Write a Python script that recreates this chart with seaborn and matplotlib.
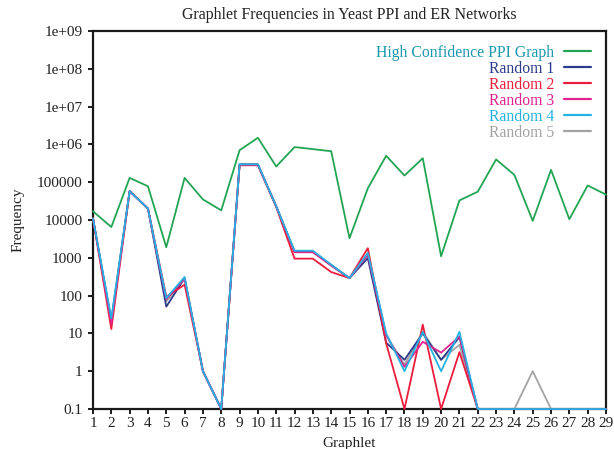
import numpy as np
import pandas as pd
import matplotlib
matplotlib.use("Agg")
import matplotlib.pyplot as plt
import seaborn as sns

graphlets = list(range(1, 30))
ppi = [17000, 6500, 130000, 78000, 1900, 130000, 35000, 18000, 700000, 1.5e6,
       260000, 850000, 750000, 660000, 3300, 69000, 500000, 150000, 430000, 1100,
       33000, 56000, 400000, 156000, 9500, 212000, 10500, 82000, 47000]
random1 = [11000, 22, 58000, 20000, 51, 290, 1, 0.1, 297000, 297000,
           23000, 1450, 1450, 640, 290, 980, 5.7, 2, 10, 2,
           8, 0.1, 0.1, 0.1, 0.1, 0.1, 0.1, 0.1, 0.1]
random2 = [11000, 13, 58000, 20000, 93, 194, 1, 0.1, 280000, 280000,
           22000, 950, 950, 420, 290, 1800, 5.5, 0.1, 17, 0.1,
           3.2, 0.1, 0.1, 0.1, 0.1, 0.1, 0.1, 0.1, 0.1]
random3 = [11000, 18, 58000, 20000, 80, 280, 1, 0.1, 290000, 290000,
           23000, 1400, 1400, 620, 290, 1200, 9, 1.3, 6, 3.1,
           8.3, 0.1, 0.1, 0.1, 0.1, 0.1, 0.1, 0.1, 0.1]
random4 = [11000, 25, 58000, 20000, 86, 310, 1, 0.1, 297000, 297000,
           23000, 1540, 1540, 660, 290, 1340, 10, 1, 11, 1,
           11, 0.1, 0.1, 0.1, 0.1, 0.1, 0.1, 0.1, 0.1]
random5 = [11000, 20, 58000, 20000, 70, 280, 1, 0.1, 290000, 290000,
           23000, 1450, 1450, 640, 290, 1300, 9, 1.5, 11, 2,
           5, 0.1, 0.1, 0.1, 1, 0.1, 0.1, 0.1, 0.1]

series_names = ["High Confidence PPI Graph", "Random 1", "Random 2",
                "Random 3", "Random 4", "Random 5"]
series_values = [ppi, random1, random2, random3, random4, random5]
line_colors = ["#22a552", "#2d3b8e", "#ec1c3c", "#e2238f", "#23b2e3", "#a3a3a3"]
text_colors = ["#1b98b0", "#2d3b8e", "#ec1c3c", "#e2238f", "#23b2e3", "#a3a3a3"]
zorders = [3, 5, 6, 7, 8, 4]

df = pd.DataFrame({
    "Graphlet": np.tile(graphlets, len(series_names)),
    "Frequency": np.concatenate(series_values),
    "Series": np.repeat(series_names, len(graphlets)),
})

sns.set_style("white")
plt.rcParams["font.family"] = ["Liberation Serif", "DejaVu Serif"]

fig = plt.figure(figsize=(6.14, 4.49), dpi=100)
ax = fig.add_axes([93 / 614, 1 - 409 / 449, (606 - 93) / 614, (409 - 31) / 449])

sns.lineplot(data=df, x="Graphlet", y="Frequency", hue="Series",
             hue_order=series_names, palette=dict(zip(series_names, line_colors)),
             linewidth=1.3, ax=ax, legend=True)

for line, z in zip(ax.lines, zorders):
    line.set_zorder(z)
    line.set_clip_on(False)

ax.set_yscale("log")
ax.set_ylim(0.1, 1e9)
ax.set_xlim(1, 29)
ax.set_xticks(graphlets)
ax.set_xticklabels([str(g) for g in graphlets])
yticks = [0.1, 1, 10, 100, 1000, 10000, 100000, 1e6, 1e7, 1e8, 1e9]
ylabels = ["0.1", "1", "10", "100", "1000", "10000", "100000",
           "1e+06", "1e+07", "1e+08", "1e+09"]
ax.set_yticks(yticks)
ax.set_yticklabels(ylabels)
ax.yaxis.set_minor_locator(matplotlib.ticker.NullLocator())

for sp in ax.spines.values():
    sp.set_visible(True)
    sp.set_linewidth(1.6)
    sp.set_color("#1a1a1a")
    sp.set_zorder(2)

ax.tick_params(axis="x", which="major", direction="out", length=3.5,
               width=1.4, color="#1a1a1a", labelsize=11, pad=2,
               bottom=True, labelcolor="#222222")
ax.tick_params(axis="y", which="major", direction="out", length=3.5,
               width=1.4, color="#1a1a1a", labelsize=11, pad=4,
               left=True, labelcolor="#222222")
ax.set_xlabel("Graphlet", fontsize=11, labelpad=5, color="#222222")
ax.set_ylabel("Frequency", fontsize=11, labelpad=9, color="#222222")
fig.suptitle("Graphlet Frequencies in Yeast PPI and ER Networks",
             fontsize=11.4, x=349 / 614, y=1 - 15 / 449, va="center",
             color="#222222")

handles, labels = ax.get_legend_handles_labels()
leg = ax.legend(handles, labels, loc="upper right", frameon=False,
                markerfirst=False, fontsize=11.3, handlelength=1.75,
                handletextpad=0.6, labelspacing=0.0,
                borderaxespad=0.3, bbox_to_anchor=(0.993, 0.993))
for txt, c in zip(leg.get_texts(), text_colors):
    txt.set_color(c)
for lh in leg.get_lines():
    lh.set_linewidth(1.6)

fig.savefig("out.png", dpi=100)
